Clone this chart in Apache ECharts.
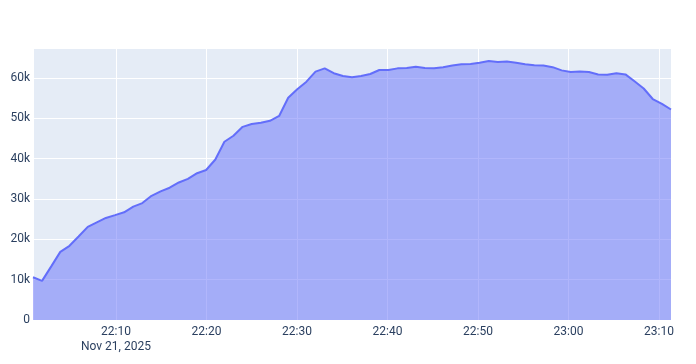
<!DOCTYPE html>
<html>
<head>
<meta charset="utf-8">
<script src="https://cdn.jsdelivr.net/npm/echarts@6/dist/echarts.min.js"></script>
<style>
html,body{margin:0;padding:0;background:#fff;}
#chart{width:696px;height:364px;}
</style>
</head>
<body>
<div id="chart"></div>
<script>
const dateLabel = 'Nov 21, 2025';
const day = '2025-11-21';
const times = [
'22:00:50','22:01:50','22:02:51','22:03:51','22:04:52','22:05:52','22:06:53','22:07:53','22:08:53','22:09:54',
'22:10:54','22:11:55','22:12:55','22:13:56','22:14:56','22:15:56','22:16:57','22:17:57','22:18:58','22:19:58',
'22:20:59','22:21:59','22:22:59','22:24:00','22:25:00','22:26:01','22:27:01','22:28:02','22:29:02','22:30:02',
'22:31:03','22:32:03','22:33:04','22:34:04','22:35:05','22:36:05','22:37:05','22:38:06','22:39:06','22:40:07',
'22:41:07','22:42:08','22:43:08','22:44:08','22:45:09','22:46:09','22:47:10','22:48:10','22:49:11','22:50:11',
'22:51:12','22:52:12','22:53:12','22:54:13','22:55:13','22:56:14','22:57:14','22:58:15','22:59:15','23:00:15',
'23:01:16','23:02:16','23:03:17','23:04:17','23:05:18','23:06:18','23:07:18','23:08:19','23:09:19','23:10:20',
'23:11:20'
];
const values = [
10600, 9700, 13300, 16900, 18400, 20700, 23100, 24200, 25300, 26000,
26700, 28100, 29000, 30800, 31900, 32800, 34100, 35000, 36400, 37200,
39800, 44200, 45700, 47900, 48600, 48900, 49400, 50600, 55100, 57200,
59100, 61600, 62400, 61200, 60500, 60200, 60500, 61000, 62000, 62000,
62400, 62500, 62800, 62500, 62400, 62700, 63100, 63400, 63500, 63800,
64200, 64000, 64100, 63800, 63400, 63200, 63100, 62700, 61900, 61500,
61600, 61500, 60900, 60800, 61200, 60900, 59200, 57400, 54800, 53600,
52200
];
const yTicks = [0, 10000, 20000, 30000, 40000, 50000, 60000];

const ts = times.map(t => new Date(day + 'T' + t + 'Z').getTime());
const data = ts.map((t, i) => [t, values[i]]);
const yMax = 67450;
const tenMin = 600000;
const font = 'Roboto';
const txt = '#2a3f5f';

const chart = echarts.init(document.getElementById('chart'), null, {renderer: 'canvas'});
chart.setOption({
  animation: false,
  grid: {left: 33, right: 25, top: 48, bottom: 44, show: true, backgroundColor: '#E5ECF6', borderWidth: 0, containLabel: false},
  xAxis: {
    type: 'value',
    min: ts[0], max: ts[ts.length - 1],
    minInterval: tenMin, maxInterval: tenMin, splitNumber: 7,
    axisLine: {show: false}, axisTick: {show: false},
    splitLine: {show: true, lineStyle: {color: '#ffffff', width: 1}},
    axisLabel: {
      color: txt, fontFamily: font, fontSize: 12, margin: 4, lineHeight: 15,
      showMinLabel: false, showMaxLabel: false,
      formatter: function (v) {
        if (v % tenMin !== 0) return '';
        const d = new Date(v);
        const hh = String(d.getUTCHours()).padStart(2, '0');
        const mm = String(d.getUTCMinutes()).padStart(2, '0');
        const s = hh + ':' + mm;
        return s === '22:10' ? s + '\n' + dateLabel : s;
      }
    }
  },
  yAxis: {
    type: 'value', min: 0, max: yMax, interval: 10000,
    axisLine: {show: false}, axisTick: {show: false},
    splitLine: {show: true, lineStyle: {color: '#ffffff', width: 1}},
    axisLabel: {
      color: txt, fontFamily: font, fontSize: 12, margin: 3,
      showMaxLabel: false,
      formatter: function (v) { return yTicks.indexOf(v) < 0 ? '' : (v === 0 ? '0' : (v / 1000) + 'k'); }
    }
  },
  series: [{
    type: 'line', data: data, symbol: 'none', smooth: false,
    lineStyle: {color: '#636EFA', width: 2},
    areaStyle: {color: '#636EFA', opacity: 0.5, origin: 'start'},
    z: 2
  }]
});
</script>
</body>
</html>
